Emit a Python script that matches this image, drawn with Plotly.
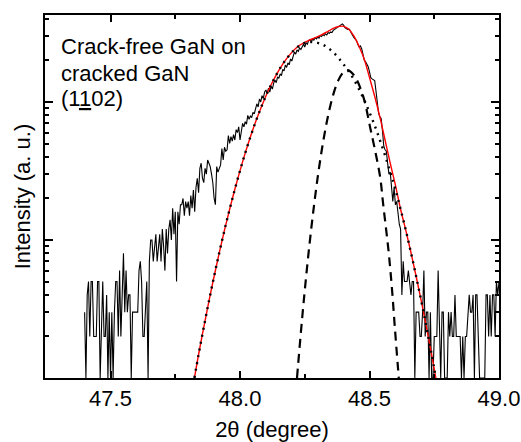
import plotly.graph_objects as go

# ---- measured XRD scan (counts), 2theta grid ----
scan_start = 47.40
scan_step = 0.005
counts = [
    3, 1, 4, 5, 2, 5, 5, 2, 2, 2, 5, 5, 1, 3, 5, 2, 2, 4, 1, 3, 1,
    3, 1, 3, 5, 5, 2, 6, 2, 4, 8, 3, 6, 3, 4, 4, 1, 3, 3, 3, 3,
    3, 6, 7, 5, 2, 2, 3, 5, 1, 7, 10, 10, 7, 9, 11, 7, 9, 11, 7, 12,
    9, 6, 12, 8, 12, 14, 10, 17, 11, 16, 5, 16, 13, 18, 18, 20, 15, 19, 17, 19,
    15, 21, 17, 23, 16, 24, 28, 22, 33, 36, 28, 26, 33, 30, 38, 36, 34, 30, 26, 20,
    18, 34, 31, 33, 35, 46, 38, 47, 44, 45, 57, 50, 56, 52, 58, 53, 63, 60, 66, 53,
    62, 70, 66, 72, 69, 80, 75, 79, 77, 84, 82, 90, 97, 92, 105, 100, 111, 106, 118, 122,
    115, 126, 118, 130, 124, 137, 144, 138, 152, 148, 160, 155, 172, 168, 185, 178, 192, 186, 205, 198,
    214, 230, 222, 238, 232, 246, 240, 255, 262, 250, 268, 262, 278, 283, 272, 285, 280, 292, 286, 295,
    290, 303, 298, 308, 302, 312, 306, 318, 314, 322, 318, 330, 335, 342, 348, 352, 358, 362, 368, 360,
    345, 340, 336, 338, 330, 315, 300, 292, 285, 278, 262, 250, 255, 242, 220, 200, 195, 185, 180, 165,
    150, 147, 145, 143, 120, 96, 83, 78, 76, 62, 48, 45, 44, 36, 30, 31, 22, 19, 24, 18,
    19, 15, 13, 12, 4, 7, 5, 5, 5, 6, 5, 4, 5, 5, 1, 3, 3, 3, 2, 2,
    3, 6, 2, 3, 3, 1, 3, 1, 1, 2, 2, 2, 6, 2, 1, 3, 3, 1, 1, 1,
    3, 2, 3, 2, 2, 4, 2, 2, 2, 2, 1, 2, 1, 2, 2, 3, 4, 3, 3, 4,
    1, 4, 4, 2, 1, 1, 1, 1, 1, 4, 4, 2, 4, 2, 4, 4, 2, 5, 4, 5,
]
two_theta = [round(scan_start + scan_step * i, 3) for i in range(len(counts))]

# ---- fitted components ----
broad_x = [47.824, 47.84, 47.86, 47.88, 47.90, 47.92, 47.94, 47.96, 47.98, 48.00,
           48.02, 48.04, 48.06, 48.08, 48.10, 48.12, 48.14, 48.16, 48.18, 48.20,
           48.22, 48.24, 48.26, 48.28, 48.30, 48.32, 48.34, 48.36, 48.38, 48.40,
           48.42, 48.44, 48.46, 48.48, 48.50, 48.52, 48.54, 48.56, 48.58, 48.60,
           48.62, 48.64, 48.66, 48.68, 48.70, 48.72, 48.74, 48.756]
broad_y = [1.0, 1.48, 2.33, 3.61, 5.46, 8.11, 11.8, 16.7, 23.3, 31.8,
           42.6, 55.7, 71.5, 89.8, 110.6, 133.3, 157.3, 182.0, 206.1, 228.6,
           248.0, 262.0, 270.0, 272.0, 268.0, 260.0, 246.0, 229.0, 209.0, 187.0,
           166.0, 145.0, 123.0, 103.0, 84.0, 67.5, 53.0, 41.0, 31.0, 23.3,
           16.7, 11.8, 8.11, 5.46, 3.61, 2.33, 1.48, 1.0]

narrow_x = [48.22, 48.24, 48.26, 48.28, 48.30, 48.32, 48.34, 48.36, 48.38, 48.40,
            48.415, 48.43, 48.45, 48.47, 48.483, 48.502, 48.521, 48.541, 48.553,
            48.573, 48.586, 48.598, 48.613]
narrow_y = [1.0, 2.72, 6.64, 14.5, 28.5, 50.2, 79.4, 113.0, 143.9, 164.8,
            169.8, 164.0, 146.0, 118.0, 98.0, 66.0, 45.0, 28.6, 18.0,
            8.5, 4.6, 2.3, 1.0]

fit_x = [47.824, 47.84, 47.86, 47.88, 47.90, 47.92, 47.94, 47.96, 47.98, 48.00,
         48.02, 48.04, 48.06, 48.08, 48.10, 48.12, 48.14, 48.16, 48.18, 48.20,
         48.22, 48.24, 48.26, 48.28, 48.30, 48.32, 48.34, 48.36, 48.38, 48.40,
         48.42, 48.44, 48.46, 48.48, 48.50, 48.52, 48.54, 48.56, 48.58, 48.60,
         48.62, 48.64, 48.66, 48.68, 48.70, 48.72, 48.74, 48.756]
fit_y = [1.0, 1.48, 2.33, 3.61, 5.46, 8.11, 11.8, 16.7, 23.3, 31.8,
         42.6, 55.7, 71.5, 89.8, 110.6, 133.3, 157.3, 182.0, 206.1, 228.6,
         249.0, 264.0, 276.0, 287.0, 297.0, 310.0, 325.0, 341.0, 352.0, 353.0,
         336.0, 300.0, 252.0, 203.0, 150.0, 110.0, 78.0, 53.0, 36.0, 25.0,
         16.7, 11.8, 8.11, 5.46, 3.61, 2.33, 1.48, 1.0]

x_major = [47.5, 48.0, 48.5, 49.0]
x_major_text = ["47.5", "48.0", "48.5", "49.0"]
x_minor = [47.25, 47.75, 48.25, 48.75]
y_major = [1, 10, 100]
y_minor = [2, 3, 4, 5, 6, 7, 8, 9, 20, 30, 40, 50, 60, 70, 80, 90, 200, 300, 400]

label_lines = ["Crack-free GaN on", "cracked GaN", "(1<u>1</u>02)"]

fig = go.Figure()
fig.add_trace(go.Scatter(x=two_theta, y=counts, mode="lines",
                         line=dict(color="black", width=1.1)))
fig.add_trace(go.Scatter(x=fit_x, y=fit_y, mode="lines", line_shape="spline",
                         line=dict(color="#ff0000", width=1.4)))
fig.add_trace(go.Scatter(x=broad_x, y=broad_y, mode="lines", line_shape="spline",
                         line=dict(color="black", width=2.4, dash="2px,5px")))
fig.add_trace(go.Scatter(x=narrow_x, y=narrow_y, mode="lines", line_shape="spline",
                         line=dict(color="black", width=2.2, dash="9px,6px")))

font_family = "Liberation Sans, Arial, Helvetica, sans-serif"

fig.update_layout(
    width=521, height=442,
    margin=dict(l=45, r=22, t=15, b=64, autoexpand=False),
    plot_bgcolor="white", paper_bgcolor="white",
    showlegend=False,
    font=dict(family=font_family, color="black", size=22),
)
fig.update_xaxes(
    range=[47.247, 49.0], automargin=False,
    tickmode="array", tickvals=x_major, ticktext=x_major_text,
    ticks="inside", ticklen=7, tickwidth=1.5, tickcolor="black",
    minor=dict(tickmode="array", tickvals=x_minor, ticks="inside", ticklen=4,
               tickwidth=1.5, tickcolor="black", showgrid=False),
    showline=True, linewidth=2, linecolor="black", mirror="allticks",
    showgrid=False, zeroline=False,
    tickfont=dict(size=22), ticklabelstandoff=0,
    title=dict(text="2θ (degree)", font=dict(size=22), standoff=12),
)
fig.update_yaxes(
    type="log", range=[0, 2.63], automargin=False,
    tickmode="array", tickvals=y_major,
    ticks="inside", ticklen=8, tickwidth=1.5, tickcolor="black",
    minor=dict(tickmode="array", tickvals=y_minor, ticks="inside", ticklen=4,
               tickwidth=1.5, tickcolor="black", showgrid=False),
    showticklabels=False,
    showline=True, linewidth=2, linecolor="black", mirror="allticks",
    showgrid=False, zeroline=False,
    title=dict(text="Intensity (a. u.)", font=dict(size=22), standoff=6),
)

ys = [0.912, 0.840, 0.769]
for txt, yy in zip(label_lines, ys):
    fig.add_annotation(text=txt, xref="paper", yref="paper", x=0.03, y=yy,
                       xanchor="left", yanchor="middle", showarrow=False,
                       font=dict(size=22, family=font_family, color="black"))

fig.write_html("out.html", config={"displayModeBar": False},
               post_script="document.body.style.margin='0';document.body.style.overflow='hidden';")
